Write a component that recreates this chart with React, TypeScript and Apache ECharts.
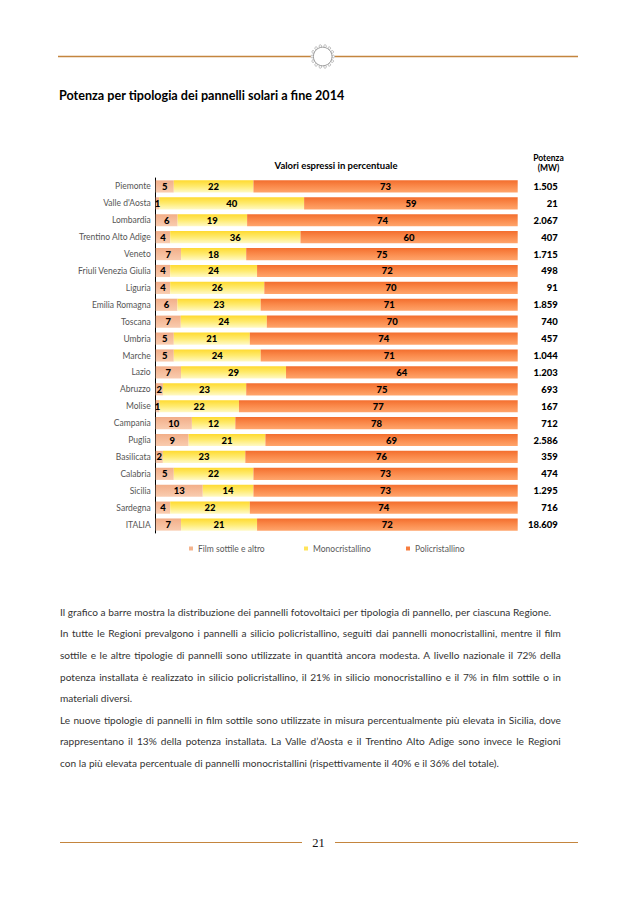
import React, { useEffect, useRef } from "react";
import * as echarts from "echarts";

const regions = [
  "Piemonte", "Valle d'Aosta", "Lombardia", "Trentino Alto Adige", "Veneto",
  "Friuli Venezia Giulia", "Liguria", "Emilia Romagna", "Toscana", "Umbria",
  "Marche", "Lazio", "Abruzzo", "Molise", "Campania", "Puglia", "Basilicata",
  "Calabria", "Sicilia", "Sardegna", "ITALIA",
];
const filmSottile = [5, 1, 6, 4, 7, 4, 4, 6, 7, 5, 5, 7, 2, 1, 10, 9, 2, 5, 13, 4, 7];
const monocristallino = [22, 40, 19, 36, 18, 24, 26, 23, 24, 21, 24, 29, 23, 22, 12, 21, 23, 22, 14, 22, 21];
const policristallino = [73, 59, 74, 60, 75, 72, 70, 71, 70, 74, 71, 64, 75, 77, 78, 69, 76, 73, 73, 74, 72];
const potenzaMW = [
  "1.505", "21", "2.067", "407", "1.715", "498", "91", "1.859", "740", "457",
  "1.044", "1.203", "693", "167", "712", "2.586", "359", "474", "1.295", "716", "18.609",
];
const seriesNames = ["Film sottile e altro", "Monocristallino", "Policristallino"];

const paragraphLines: { text: string; justify: boolean }[] = [
  { text: "Il grafico a barre mostra la distribuzione dei pannelli fotovoltaici per tipologia di pannello, per ciascuna Regione.", justify: false },
  { text: "In tutte le Regioni prevalgono i pannelli a silicio policristallino, seguiti dai pannelli monocristallini, mentre il film", justify: true },
  { text: "sottile e le altre tipologie di pannelli sono utilizzate in quantità ancora modesta. A livello nazionale il 72% della", justify: true },
  { text: "potenza installata è realizzato in silicio policristallino, il 21% in silicio monocristallino e il 7% in film sottile o in", justify: true },
  { text: "materiali diversi.", justify: false },
  { text: "Le nuove tipologie di pannelli in film sottile sono utilizzate in misura percentualmente più elevata in Sicilia, dove", justify: true },
  { text: "rappresentano il 13% della potenza installata. La Valle d’Aosta e il Trentino Alto Adige sono invece le Regioni", justify: true },
  { text: "con la più elevata percentuale di pannelli monocristallini (rispettivamente il 40% e il 36% del totale).", justify: false },
];
const lineCenters = [611.5, 633, 655, 676.5, 698, 719.5, 741, 762.5];

const FONT = "Lato, 'Open Sans', sans-serif";
const RULE = "#C4853E";

export default function App() {
  const ref = useRef<HTMLDivElement>(null);

  useEffect(() => {
    if (!ref.current) return;
    const chart = echarts.init(ref.current, undefined, { renderer: "svg" });
    const raw = [filmSottile, monocristallino, policristallino];
    const totals = regions.map((_, i) => filmSottile[i] + monocristallino[i] + policristallino[i]);
    const grads = [
      [
        { offset: 0, color: "#F2AE88" },
        { offset: 1, color: "#F9CCB0" },
      ],
      [
        { offset: 0, color: "#FFDA30" },
        { offset: 0.5, color: "#FFEB70" },
        { offset: 1, color: "#FFF9C6" },
      ],
      [
        { offset: 0, color: "#F36E2E" },
        { offset: 0.45, color: "#FA8849" },
        { offset: 1, color: "#FFA56C" },
      ],
    ];
    const legendColors = ["#F4B48E", "#FFE45A", "#F77D3E"];

    const series = seriesNames.map((name, s) => ({
      name,
      type: "bar",
      stack: "tot",
      barCategoryGap: "28%",
      itemStyle: { color: new echarts.graphic.LinearGradient(0, 0, 0, 1, grads[s]) },
      label: {
        show: true,
        position: "inside",
        color: "#000",
        fontWeight: 900,
        fontSize: 9.5,
        fontFamily: FONT,
        formatter: (p: any) => String(raw[s][p.dataIndex]),
      },
      data: raw[s].map((v, i) => (v / totals[i]) * 100),
    }));

    const bumps: any[] = [];
    for (let k = 0; k < 14; k++) {
      const a = (k / 14) * Math.PI * 2;
      bumps.push({
        type: "circle",
        shape: { cx: 322.7 + Math.cos(a) * 10.6, cy: 56.5 + Math.sin(a) * 10.6, r: 1.3 },
        style: { fill: "#fff", stroke: "#A8A8A8", lineWidth: 0.8 },
        z: 10,
      });
    }

    chart.setOption({
      animation: false,
      title: {
        text: "Potenza per tipologia dei pannelli solari a fine 2014",
        left: 59,
        top: 88.5,
        padding: 0,
        textStyle: { fontFamily: FONT, fontSize: 12.6, fontWeight: "bold", color: "#000" },
      },
      legend: seriesNames.map((n, s) => ({
        data: [{ name: n, itemStyle: { color: legendColors[s] } }],
        left: [189, 304, 406][s],
        top: 544,
        icon: "rect",
        itemWidth: 4,
        itemHeight: 4,
        padding: 0,
        selectedMode: false,
        textStyle: { fontFamily: FONT, fontSize: 8.5, color: "#595959" },
      })),
      grid: { left: 155.7, right: 120.3, top: 178, bottom: 370, containLabel: false },
      xAxis: { type: "value", min: 0, max: 100, show: false },
      yAxis: [
        {
          type: "category",
          data: regions,
          inverse: true,
          axisLine: { show: true, lineStyle: { color: "#000", width: 1 } },
          axisTick: { show: false },
          axisLabel: { color: "#555", fontSize: 8.5, fontFamily: FONT, margin: 5 },
        },
        {
          type: "category",
          data: potenzaMW,
          inverse: true,
          position: "right",
          axisLine: { show: false },
          axisTick: { show: false },
          axisLabel: { color: "#000", fontSize: 9.5, fontWeight: 900, fontFamily: FONT, margin: 40, align: "right" },
        },
      ],
      series,
      graphic: [
        { type: "line", shape: { x1: 58, y1: 56.5, x2: 311.5, y2: 56.5 }, style: { stroke: RULE, lineWidth: 1.3 } },
        { type: "line", shape: { x1: 334.5, y1: 56.5, x2: 578, y2: 56.5 }, style: { stroke: RULE, lineWidth: 1.3 } },
        ...bumps,
        { type: "circle", shape: { cx: 322.7, cy: 56.5, r: 9.3 }, style: { fill: "#fff", stroke: "#A0A0A0", lineWidth: 1 }, z: 11 },
        {
          type: "text",
          x: 336,
          y: 165,
          style: { text: "Valori espressi in percentuale", fontFamily: FONT, fontSize: 9.5, fontWeight: "bold", fill: "#000", align: "center", verticalAlign: "middle" },
        },
        {
          type: "text",
          x: 548.5,
          y: 163,
          style: { text: "Potenza\n(MW)", fontFamily: FONT, fontSize: 8.5, lineHeight: 9.5, fontWeight: "bold", fill: "#000", align: "center", verticalAlign: "middle" },
        },
        { type: "line", shape: { x1: 60, y1: 842.5, x2: 302, y2: 842.5 }, style: { stroke: RULE, lineWidth: 1.2 } },
        { type: "line", shape: { x1: 335, y1: 842.5, x2: 578, y2: 842.5 }, style: { stroke: RULE, lineWidth: 1.2 } },
        {
          type: "text",
          x: 318.5,
          y: 843,
          style: { text: "21", fontFamily: "'Liberation Serif', serif", fontSize: 12.5, fill: "#111", align: "center", verticalAlign: "middle" },
        },
      ],
    });
    return () => chart.dispose();
  }, []);

  return (
    <div style={{ position: "absolute", left: 0, top: 0, width: 638, height: 903, background: "#fff", overflow: "hidden" }}>
      <div ref={ref} style={{ position: "absolute", left: 0, top: 0, width: 638, height: 903 }} />
      {paragraphLines.map((ln, i) => (
        <div
          key={i}
          style={{
            position: "absolute",
            left: 60,
            top: lineCenters[i] - 7,
            width: 501,
            height: 14,
            lineHeight: "14px",
            fontFamily: FONT,
            fontSize: 10.1,
            color: "#333",
            whiteSpace: "nowrap",
            display: "flex",
            justifyContent: ln.justify ? "space-between" : "flex-start",
            gap: ln.justify ? 0 : "0.27em",
          }}
        >
          {ln.text.split(" ").map((w, j) => (
            <span key={j}>{w}</span>
          ))}
        </div>
      ))}
    </div>
  );
}
